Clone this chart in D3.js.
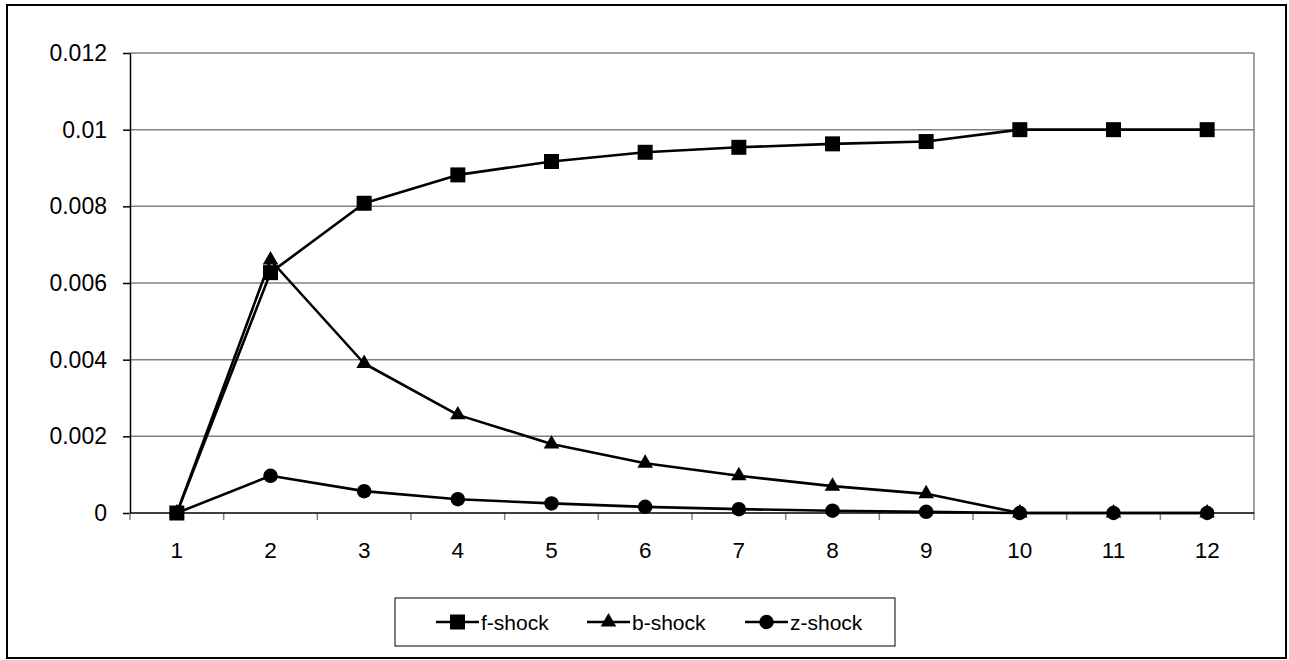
<!DOCTYPE html>
<html>
<head>
<meta charset="utf-8">
<script src="https://cdn.jsdelivr.net/npm/d3@7"></script>
<style>
  html, body { margin: 0; padding: 0; background: #fff; }
  svg { display: block; font-family: "Liberation Sans", Arial, sans-serif; }
</style>
</head>
<body>
<svg id="chart" width="1289" height="660"></svg>
<script>
// Periods on the horizontal axis
const periods = ["1", "2", "3", "4", "5", "6", "7", "8", "9", "10", "11", "12"];

// Responses to each shock
const fShock = [0, 0.00627, 0.00808, 0.00882, 0.00917, 0.00941, 0.00954, 0.00963, 0.00969, 0.01, 0.01, 0.01];
const bShock = [0, 0.0066, 0.0039, 0.00256, 0.0018, 0.0013, 0.00097, 0.0007, 0.0005, 0, 0, 0];
const zShock = [0, 0.00097, 0.00057, 0.00036, 0.00025, 0.00016, 0.0001, 0.00006, 0.00003, 0, 0, 0];

// Value-axis ticks
const yTicks = [0, 0.002, 0.004, 0.006, 0.008, 0.01, 0.012];
const yTickLabels = ["0", "0.002", "0.004", "0.006", "0.008", "0.01", "0.012"];

const seriesList = [
  { name: "f-shock", values: fShock, symbol: d3.symbolSquare },
  { name: "b-shock", values: bShock, symbol: d3.symbolTriangle },
  { name: "z-shock", values: zShock, symbol: d3.symbolCircle }
];

const svg = d3.select("#chart");
const plot = { left: 130, right: 1254, top: 53, bottom: 513 };

// Outer frame
svg.append("rect")
  .attr("x", 7).attr("y", 5)
  .attr("width", 1279).attr("height", 653)
  .attr("fill", "#fff").attr("stroke", "#000").attr("stroke-width", 2);

const x = d3.scaleBand().domain(periods).range([plot.left, plot.right]).padding(0);
const y = d3.scaleLinear().domain([0, 0.012]).range([plot.bottom, plot.top]);

// Horizontal gridlines
svg.append("g")
  .selectAll("line")
  .data(yTicks.slice(1))
  .join("line")
  .attr("x1", plot.left).attr("x2", plot.right)
  .attr("y1", d => y(d)).attr("y2", d => y(d))
  .attr("stroke", "#808080").attr("stroke-width", 1.5);

// Right edge of the plot area
svg.append("line")
  .attr("x1", plot.right).attr("x2", plot.right)
  .attr("y1", plot.top).attr("y2", plot.bottom)
  .attr("stroke", "#808080").attr("stroke-width", 1.5);

// Value axis
const yAxis = d3.axisLeft(y)
  .tickValues(yTicks)
  .tickFormat((d, i) => yTickLabels[i])
  .tickSizeInner(7).tickSizeOuter(0).tickPadding(16);
const gy = svg.append("g").attr("transform", `translate(${plot.left},0)`).call(yAxis);
gy.select(".domain").attr("stroke", "#000").attr("stroke-width", 1.5);
gy.selectAll(".tick line").attr("stroke", "#000").attr("stroke-width", 1.5);
gy.selectAll(".tick text").attr("font-size", 23).attr("fill", "#000")
  .attr("font-family", "Liberation Sans, Arial, sans-serif");

// Category axis with ticks between periods
const boundaries = periods.map(p => x(p)).concat([plot.right]);
svg.append("g")
  .selectAll("line")
  .data(boundaries)
  .join("line")
  .attr("x1", d => d).attr("x2", d => d)
  .attr("y1", plot.bottom).attr("y2", plot.bottom + 7)
  .attr("stroke", "#808080").attr("stroke-width", 1.5);
svg.append("line")
  .attr("x1", plot.left).attr("x2", plot.right)
  .attr("y1", plot.bottom).attr("y2", plot.bottom)
  .attr("stroke", "#000").attr("stroke-width", 1.5);
svg.append("g")
  .selectAll("text")
  .data(periods)
  .join("text")
  .attr("x", d => x(d) + x.bandwidth() / 2)
  .attr("y", 558)
  .attr("text-anchor", "middle")
  .attr("font-size", 22.5)
  .attr("fill", "#000")
  .text(d => d);

// Series lines and markers
const line = d3.line()
  .x((d, i) => x(periods[i]) + x.bandwidth() / 2)
  .y(d => y(d));

seriesList.forEach(s => {
  svg.append("path")
    .datum(s.values)
    .attr("d", line)
    .attr("fill", "none")
    .attr("stroke", "#000")
    .attr("stroke-width", 2.6)
    .attr("stroke-linejoin", "round");
});

const symbolSize = { "f-shock": 225, "b-shock": 105, "z-shock": 165 };
seriesList.forEach(s => {
  svg.append("g")
    .selectAll("path")
    .data(s.values)
    .join("path")
    .attr("transform", (d, i) => `translate(${x(periods[i]) + x.bandwidth() / 2},${y(d)})`)
    .attr("d", d3.symbol().type(s.symbol).size(symbolSize[s.name]))
    .attr("fill", "#000");
});

// Legend
const legend = svg.append("g");
legend.append("rect")
  .attr("x", 395).attr("y", 598)
  .attr("width", 500).attr("height", 48)
  .attr("fill", "#fff").attr("stroke", "#000").attr("stroke-width", 1);

const legendX = [436, 587, 745];
seriesList.forEach((s, i) => {
  const g = legend.append("g").attr("transform", `translate(${legendX[i]},622)`);
  g.append("line")
    .attr("x1", 0).attr("x2", 43)
    .attr("y1", 0).attr("y2", 0)
    .attr("stroke", "#000").attr("stroke-width", 2.6);
  g.append("path")
    .attr("transform", "translate(21.5,0)")
    .attr("d", d3.symbol().type(s.symbol).size(symbolSize[s.name]))
    .attr("fill", "#000");
  g.append("text")
    .attr("x", 45).attr("y", 7.5)
    .attr("font-size", 21)
    .attr("fill", "#000")
    .text(s.name);
});
</script>
</body>
</html>
